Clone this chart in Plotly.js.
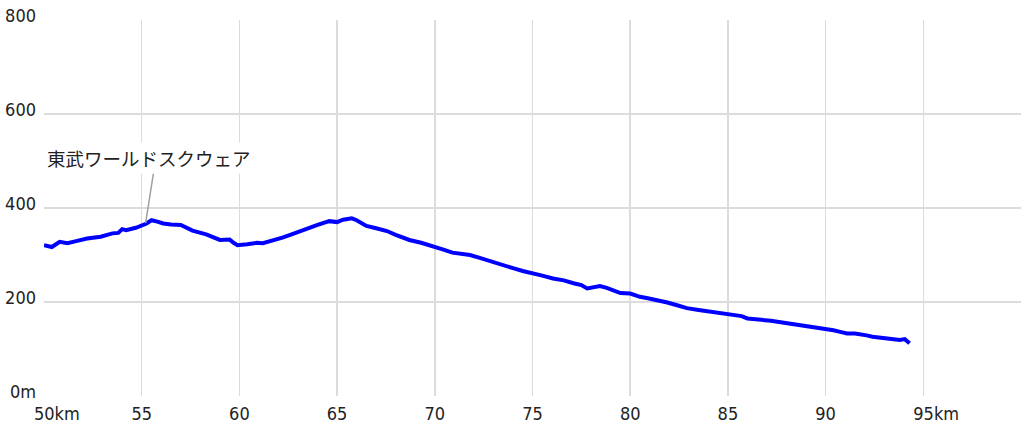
<!DOCTYPE html>
<html>
<head>
<meta charset="utf-8">
<script src="https://cdn.plot.ly/plotly-3.0.1.min.js"></script>
<style>html,body{margin:0;padding:0;background:#fff;}#chart{width:1024px;height:430px;}</style>
</head>
<body>
<div id="chart"></div>
<script>
// distance along the course (km)
const distanceKm = [50.0, 50.4, 50.8, 51.2, 51.7, 52.2, 52.9, 53.5, 53.8, 54.0, 54.2, 54.7, 55.25, 55.5, 55.8, 56.1, 56.5, 57.0, 57.6, 58.3, 59.0, 59.5, 59.7, 59.9, 60.4, 60.9, 61.2, 61.7, 62.2, 62.6, 63.1, 63.5, 64.0, 64.6, 65.0, 65.3, 65.75, 66.0, 66.5, 67.0, 67.55, 68.0, 68.7, 69.3, 69.9, 70.4, 70.9, 71.3, 71.8, 72.3, 72.8, 73.4, 74.0, 74.5, 75.0, 75.5, 76.05, 76.6, 77.1, 77.5, 77.8, 78.1, 78.45, 78.8, 79.1, 79.5, 80.0, 80.5, 80.9, 81.4, 81.9, 82.4, 82.9, 83.5, 84.1, 84.7, 85.3, 85.7, 86.0, 86.4, 86.8, 87.2, 87.7, 88.2, 88.7, 89.2, 89.7, 90.0, 90.4, 90.8, 91.1, 91.5, 91.8, 92.1, 92.4, 92.8, 93.1, 93.5, 93.8, 94.05, 94.3];
// elevation (m)
const elevationM = [321, 317, 328, 325, 330, 335, 339, 346, 347, 355, 353, 358, 367, 374, 371, 367, 365, 364, 352, 344, 332, 333, 326, 321, 323, 326, 325, 330, 337, 343, 351, 357, 364, 372, 370, 375, 378, 374, 362, 357, 351, 343, 332, 326, 319, 312, 305, 303, 300, 294, 287, 280, 272, 266, 260, 256, 250, 246, 240, 236, 229, 232, 234, 230, 226, 219, 218, 211, 208, 204, 199, 193, 187, 183, 179, 176, 172, 170, 165, 164, 162, 160, 157, 154, 150, 147, 144, 142, 140, 136, 133, 133, 132, 129, 126, 124, 121, 120, 119, 121, 112];

const xTickVals = [50, 55, 60, 65, 70, 75, 80, 85, 90, 95, 100];
const xTickText = ['\u00a0\u00a0\u00a0\u00a0\u00a050km', '55', '60', '65', '70', '75', '80', '85', '90', '\u00a0\u00a0\u00a0\u00a0\u00a095km', ''];
const yTickVals = [0, 200, 400, 600, 800];
const yTickText = ['0m', '200', '400', '600', '800'];

const landmarkName = '東武ワールドスクウェア';
const landmarkKm = 55.2;
const landmarkM = 368;

const tickFont = {family: '"DejaVu Sans Condensed", "DejaVu Sans", sans-serif', size: 18, color: '#222'};

const data = [{
  x: distanceKm,
  y: elevationM,
  type: 'scatter',
  mode: 'lines',
  line: {color: '#0000ff', width: 4},
  hoverinfo: 'skip'
}];

const layout = {
  width: 1024,
  height: 430,
  margin: {l: 44, r: 3, t: 20, b: 34},
  paper_bgcolor: '#ffffff',
  plot_bgcolor: '#ffffff',
  showlegend: false,
  xaxis: {
    range: [50, 100],
    tickvals: xTickVals,
    ticktext: xTickText,
    tickfont: tickFont,
    showgrid: true,
    gridcolor: '#dcdcdc',
    gridwidth: 1.5,
    zeroline: false,
    showline: false,
    ticks: '',
    ticklabelstandoff: 5,
    fixedrange: true
  },
  yaxis: {
    range: [0, 800],
    tickvals: yTickVals,
    ticktext: yTickText,
    tickfont: tickFont,
    showgrid: true,
    gridcolor: '#dcdcdc',
    gridwidth: 1.5,
    zeroline: false,
    showline: false,
    ticks: '',
    ticklabelstandoff: 7,
    ticklabelshift: -4,
    fixedrange: true
  },
  annotations: [{
    x: landmarkKm,
    y: landmarkM,
    xref: 'x',
    yref: 'y',
    text: '',
    showarrow: true,
    arrowhead: 0,
    arrowcolor: '#a0a0a0',
    arrowwidth: 1.5,
    standoff: 0,
    ax: 8,
    ay: -51
  }, {
    x: landmarkKm,
    y: landmarkM,
    xref: 'x',
    yref: 'y',
    text: landmarkName,
    showarrow: false,
    xshift: 3,
    yshift: 65,
    bgcolor: '#ffffff',
    borderpad: 2,
    font: {family: '"Noto Sans CJK JP", "Noto Sans", sans-serif', size: 18.5, color: '#222'}
  }]
};

Plotly.newPlot('chart', data, layout, {displayModeBar: false, staticPlot: true});
</script>
</body>
</html>
